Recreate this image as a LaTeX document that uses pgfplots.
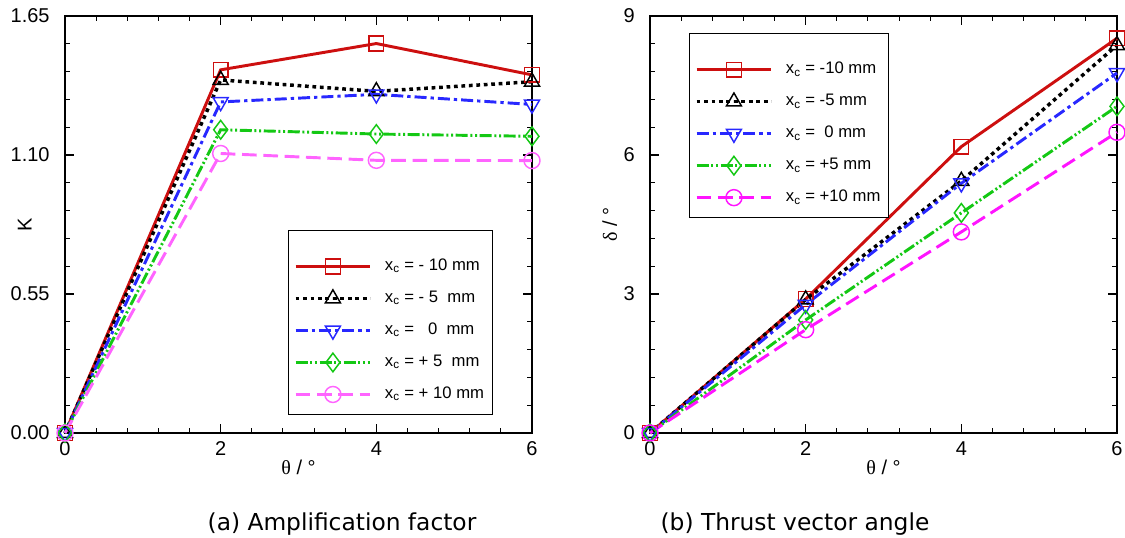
\documentclass[border=0pt]{standalone}
\usepackage{fontspec}
\setmainfont{Liberation Sans}
\newfontfamily\grfont{Liberation Serif}
\newfontfamily\capfont{DejaVu Sans}
\usepackage{pgfplots}
\pgfplotsset{compat=1.18}

\definecolor{cred}{RGB}{205,15,15}
\definecolor{cblue}{RGB}{40,40,255}
\definecolor{cgreen}{RGB}{20,200,20}
\definecolor{cmagL}{RGB}{255,100,255}
\definecolor{cmagR}{RGB}{255,20,255}

\pgfplotsset{
  myaxis/.style={
    scale only axis, width=350.25pt, height=312.75pt,
    xmin=0, xmax=6, xtick={0,2,4,6},
    minor x tick num=4, minor y tick num=4,
    axis line style={line width=1.3pt},
    every tick/.style={black, line width=0.8pt},
    major tick length=7pt, minor tick length=4pt,
    tick label style={font=\fontsize{15}{15}\selectfont},
    yticklabel style={xshift=-8pt},
    xticklabel style={yshift=-3pt},
    /pgf/number format/assume math mode=true,
    label style={font=\fontsize{15}{15}\selectfont},
    xlabel={{\grfont θ} / °},
    xlabel style={at={(axis description cs:0.5,-0.082)}, anchor=center},
    ylabel style={at={(axis description cs:-0.086,0.5)}, anchor=center},
    clip=false,
    legend cell align=left,
    legend style={font=\fontsize{12.5}{12.5}\selectfont, draw=black, line width=0.8pt,
      anchor=north west, inner xsep=4pt, inner ysep=6pt, row sep=6pt,
      nodes={text height=9pt, text depth=3pt, inner ysep=3pt}},
    legend image code/.code={
      \path[draw=none, mark=none] (0pt,0pt) -- (65pt,0pt);
      \draw[mark repeat=2, mark phase=2] plot coordinates {(0pt,0pt) (28pt,0pt) (56pt,0pt)};
    },
  },
  sred/.style={color=cred, line width=2.2pt, solid, mark=square, mark size=5.5pt,
    mark options={solid, line width=1.1pt, fill=white}},
  sblack/.style={color=black, line width=2.6pt, dash pattern=on 2.8pt off 2.8pt, mark=triangle, mark size=6.5pt,
    mark options={solid, line width=1.1pt, fill=white}},
  sblue/.style={color=cblue, line width=2.2pt, dash pattern=on 9pt off 3pt on 2.5pt off 3pt, mark=triangle, mark size=6.5pt,
    mark options={solid, rotate=180, line width=1.1pt, fill=white}},
  sgreen/.style={color=cgreen, line width=2.2pt, dash pattern=on 9pt off 2pt on 1.5pt off 2pt on 1.5pt off 2pt, mark=diamond, mark size=7pt,
    mark options={solid, line width=1.1pt, fill=white}},
  smag/.style={line width=2.2pt, dash pattern=on 11pt off 5pt, mark=o, mark size=6pt,
    mark options={solid, line width=1.1pt, fill=white}},
}

\begin{document}
\begin{tikzpicture}
\begin{axis}[myaxis,
  at={(48.75pt,-12pt)}, anchor=north west,
  ymin=0, ymax=1.65, ytick={0,0.55,1.10,1.65},
  yticklabel style={/pgf/number format/.cd, fixed, fixed zerofill, precision=2},
  ylabel={K},
  legend style={at={(axis description cs:0.4775,0.487)}},
]
\addlegendimage{empty legend}
\addlegendentry[text height=6pt, text depth=0pt, inner ysep=0pt]{}
\addplot[sred] coordinates {(0,0) (2,1.437) (4,1.541) (6,1.417)};
\addlegendentry{x\textsubscript{c} = - 10 mm}
\addplot[sblack] coordinates {(0,0) (2,1.397) (4,1.352) (6,1.390)};
\addlegendentry{x\textsubscript{c} = - 5\ \ mm}
\addplot[sblue] coordinates {(0,0) (2,1.310) (4,1.340) (6,1.300)};
\addlegendentry{x\textsubscript{c} = \ \ 0\ \ mm}
\addplot[sgreen] coordinates {(0,0) (2,1.200) (4,1.183) (6,1.174)};
\addlegendentry{x\textsubscript{c} = + 5\ \ mm}
\addplot[smag, color=cmagL] coordinates {(0,0) (2,1.106) (4,1.079) (6,1.078)};
\addlegendentry{x\textsubscript{c} = + 10 mm}
\end{axis}

\begin{axis}[myaxis,
  at={(487.5pt,-12pt)}, anchor=north west,
  ymin=0, ymax=9, ytick={0,3,6,9},
  ylabel={{\grfont δ} / °},
  legend style={at={(axis description cs:0.0835,0.959)}},
]
\addlegendimage{empty legend}
\addlegendentry[text height=6pt, text depth=0pt, inner ysep=0pt]{}
\addplot[sred] coordinates {(0,0) (2,2.89) (4,6.18) (6,8.52)};
\addlegendentry{x\textsubscript{c} = -10 mm}
\addplot[sblack] coordinates {(0,0) (2,2.88) (4,5.44) (6,8.37)};
\addlegendentry{x\textsubscript{c} = -5 mm}
\addplot[sblue] coordinates {(0,0) (2,2.77) (4,5.39) (6,7.77)};
\addlegendentry{x\textsubscript{c} = \ 0 mm}
\addplot[sgreen] coordinates {(0,0) (2,2.44) (4,4.75) (6,7.05)};
\addlegendentry{x\textsubscript{c} = +5 mm}
\addplot[smag, color=cmagR] coordinates {(0,0) (2,2.23) (4,4.34) (6,6.49)};
\addlegendentry{x\textsubscript{c} = +10 mm}
\end{axis}

\node[anchor=base, font=\capfont\fontsize{17.5}{17.5}\selectfont] at (256.5pt,-397.5pt) {(a) Amplification factor};
\node[anchor=base, font=\capfont\fontsize{17.5}{17.5}\selectfont] at (596.25pt,-397.5pt) {(b) Thrust vector angle};

\pgfresetboundingbox
\path[use as bounding box] (0pt,0pt) rectangle (843.75pt,-402.75pt);
\end{tikzpicture}
\end{document}
